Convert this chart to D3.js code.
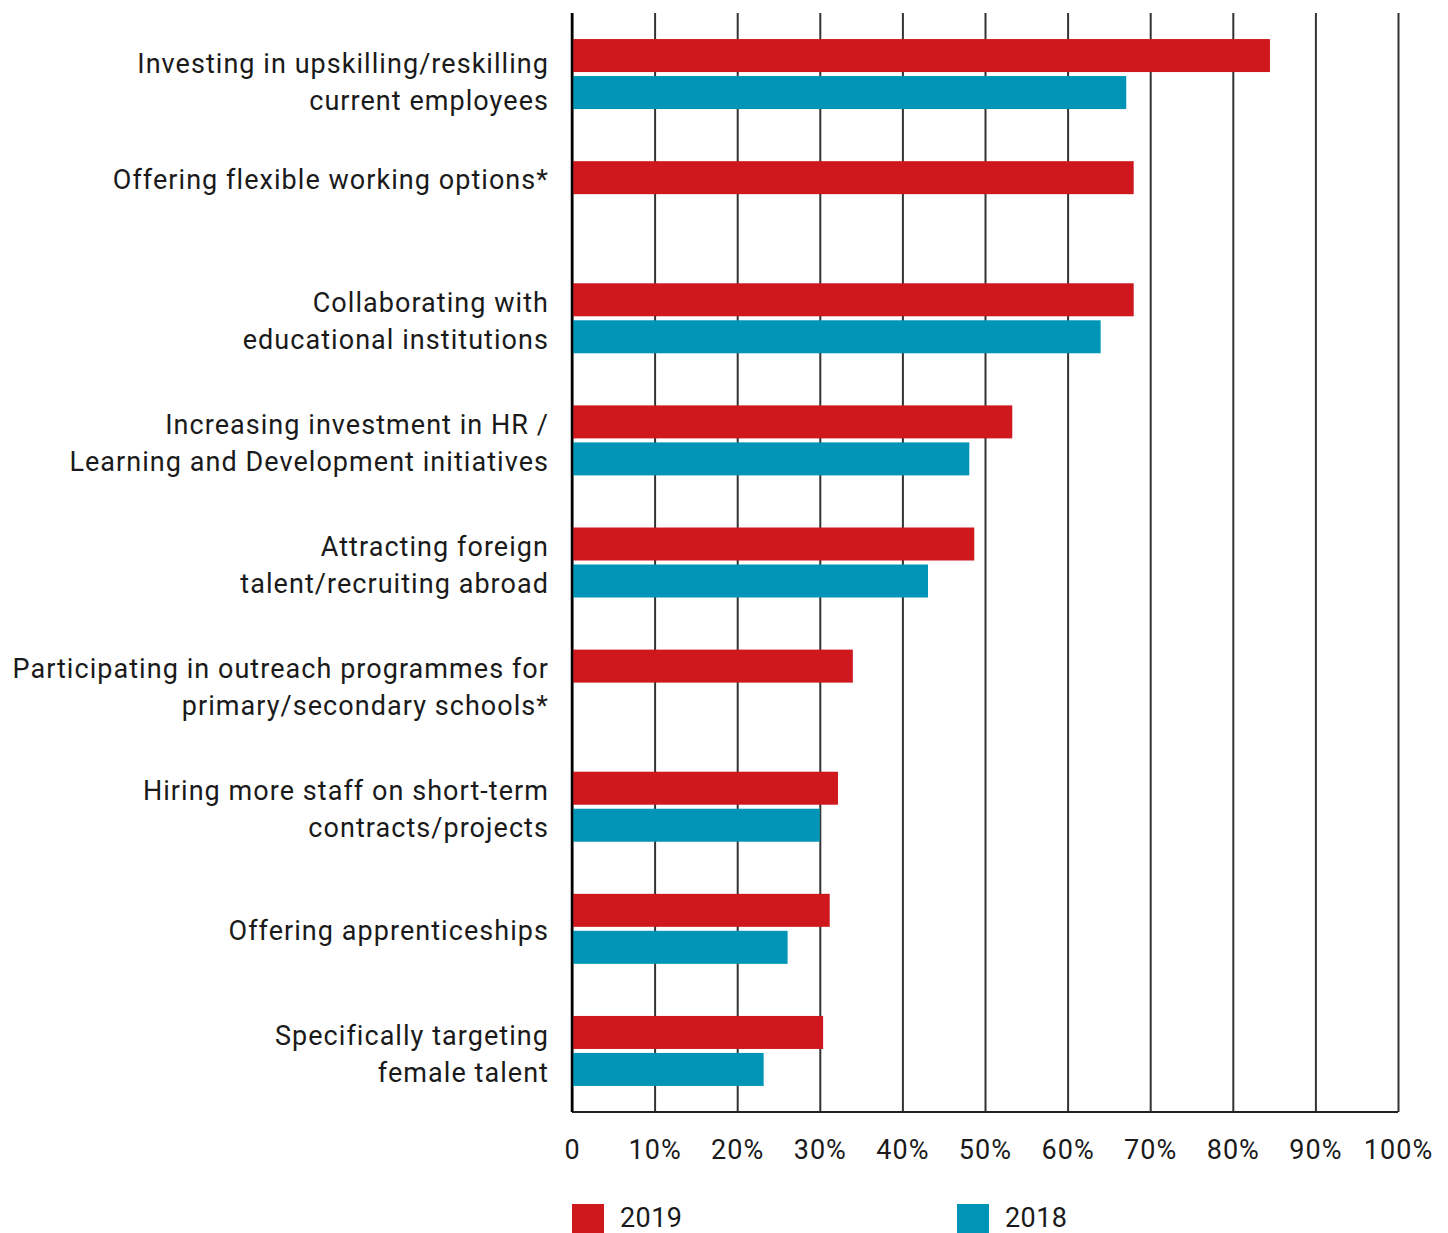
<!DOCTYPE html>
<html>
<head>
<meta charset="utf-8">
<script src="https://cdn.jsdelivr.net/npm/d3@7"></script>
<style>
  html, body { margin: 0; padding: 0; background: #fff; }
  svg { display: block; }
  text { font-family: Roboto, "DejaVu Sans", sans-serif; fill: #1a1a1a; letter-spacing: 1.05px; }
</style>
</head>
<body>
<svg id="chart" width="1448" height="1233"></svg>
<script>
// Measures employers are taking, share of respondents (%)
const categories = [
  "Investing in upskilling/reskilling\ncurrent employees",
  "Offering flexible working options*",
  "Collaborating with\neducational institutions",
  "Increasing investment in HR /\nLearning and Development initiatives",
  "Attracting foreign\ntalent/recruiting abroad",
  "Participating in outreach programmes for\nprimary/secondary schools*",
  "Hiring more staff on short-term\ncontracts/projects",
  "Offering apprenticeships",
  "Specifically targeting\nfemale talent"
];
const series = ["2019", "2018"];
const values2019 = [84.5, 68, 68, 53.3, 48.7, 34, 32.2, 31.2, 30.4];
const values2018 = [67.1, null, 64, 48.1, 43.1, null, 30, 26.1, 23.2];
const xTicks = [0, 10, 20, 30, 40, 50, 60, 70, 80, 90, 100];
const colors = { "2019": "#ce181e", "2018": "#0095b7" };

const svg = d3.select("#chart");
const plotL = 572, plotR = 1398, plotT = 13, plotB = 1112;

const x = d3.scaleLinear().domain([0, 100]).range([plotL, plotR]);
const y0 = d3.scaleBand().domain(categories).range([plotT, plotB]);
const pairH = 70;
const y1 = d3.scaleBand().domain(series).range([0, pairH]).paddingInner(0.108);
const groupTop = c => y0(c) + (y0.bandwidth() - pairH) / 2;

const rows = categories.map((c, i) => ({
  cat: c,
  bars: [
    { s: "2019", v: values2019[i] },
    { s: "2018", v: values2018[i] }
  ].filter(b => b.v !== null)
}));

// vertical gridlines + tick labels
const axis = d3.axisBottom(x)
  .tickValues(xTicks)
  .tickSizeInner(-(plotB - plotT))
  .tickSizeOuter(0)
  .tickPadding(28)
  .tickFormat(d => d === 0 ? "0" : d + "%");

const gAxis = svg.append("g")
  .attr("transform", `translate(0,${plotB})`)
  .call(axis);
gAxis.select(".domain").remove();
gAxis.selectAll(".tick line").attr("stroke", "#333").attr("stroke-width", 2);
gAxis.selectAll(".tick text")
  .attr("font-size", 27)
  .attr("fill", "#1a1a1a")
  .style("font-family", "Roboto, sans-serif");

// bottom baseline
svg.append("line")
  .attr("x1", plotL).attr("x2", plotR)
  .attr("y1", plotB).attr("y2", plotB)
  .attr("stroke", "#222").attr("stroke-width", 2);

// bars
const groups = svg.append("g").selectAll("g")
  .data(rows).join("g")
  .attr("transform", d => `translate(0,${groupTop(d.cat)})`);

groups.selectAll("rect")
  .data(d => d.bars).join("rect")
  .attr("x", x(0))
  .attr("y", b => y1(b.s))
  .attr("width", b => x(b.v) - x(0))
  .attr("height", y1.bandwidth())
  .attr("fill", b => colors[b.s]);

// left axis line
svg.append("line")
  .attr("x1", plotL).attr("x2", plotL)
  .attr("y1", plotT).attr("y2", plotB)
  .attr("stroke", "#000").attr("stroke-width", 2.5);

// category labels, right aligned beside the axis
const lineH = 37, capH = 18.5;
rows.forEach((r, i) => {
  const lines = r.cat.split("\n");
  let center;
  if (lines.length === 1) {
    const ys = r.bars.map(b => groupTop(r.cat) + y1(b.s) + y1.bandwidth() / 2);
    center = d3.mean(ys) + 2;
  } else {
    // two-line labels sit slightly below the pair's midline
    center = groupTop(r.cat) + pairH / 2 + (i === 0 ? 8 : 3);
  }
  const firstBase = center + capH / 2 - (lines.length - 1) * lineH / 2;
  const t = svg.append("text")
    .attr("text-anchor", "end")
    .attr("font-size", 27);
  lines.forEach((ln, k) => {
    t.append("tspan")
      .attr("x", 549)
      .attr("y", firstBase + k * lineH)
      .text(ln);
  });
});

// legend
const legend = svg.append("g").selectAll("g")
  .data(series).join("g")
  .attr("transform", (d, i) => `translate(${[572, 957][i]},1204)`);
legend.append("rect")
  .attr("width", 32).attr("height", 30)
  .attr("fill", d => colors[d]);
legend.append("text")
  .attr("x", 48).attr("y", 23)
  .attr("font-size", 27)
  .style("letter-spacing", "0.4px")
  .text(d => d);
</script>
</body>
</html>
